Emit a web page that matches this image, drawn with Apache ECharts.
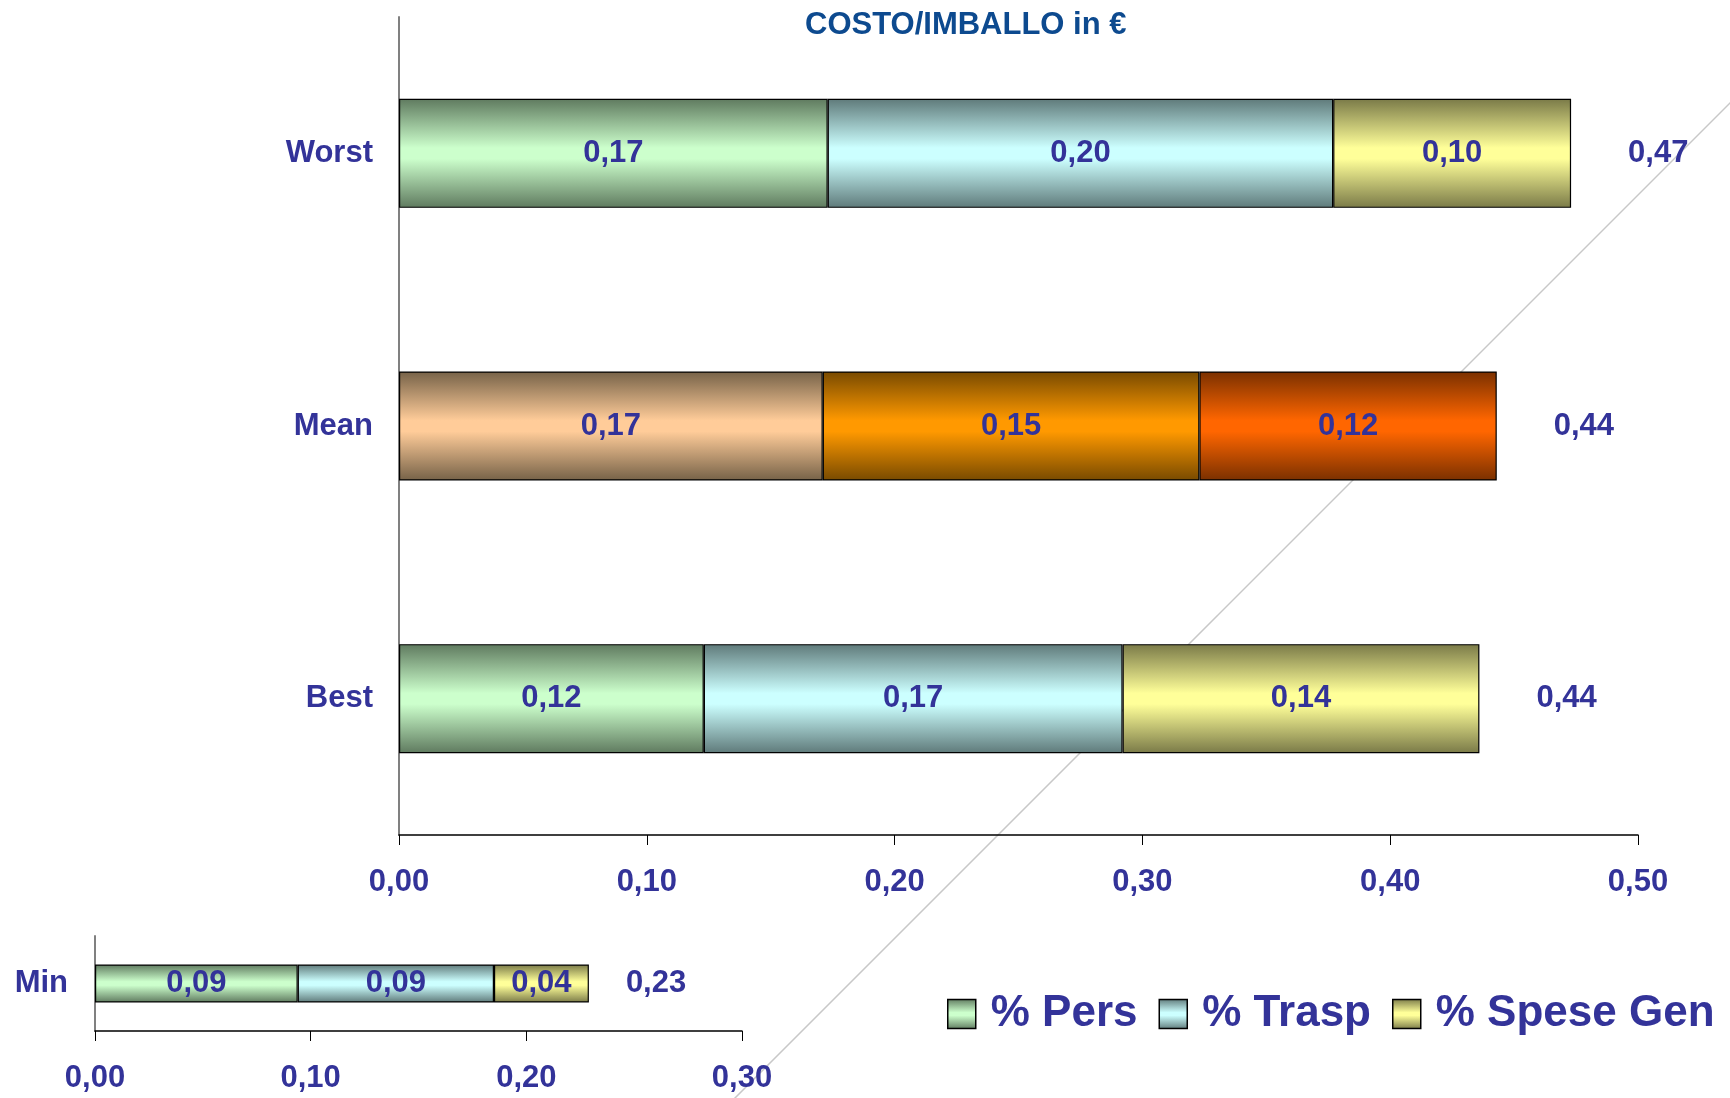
<!DOCTYPE html>
<html>
<head>
<meta charset="utf-8">
<script src="https://cdn.jsdelivr.net/npm/echarts@6/dist/echarts.min.js"></script>
<style>
html,body{margin:0;padding:0;background:#fff;}
#chart{width:1730px;height:1098px;}
</style>
</head>
<body>
<div id="chart"></div>
<script>
// ---- data ----
const chartTitle = 'COSTO/IMBALLO in €';
const seriesNames = ['% Pers', '% Trasp', '% Spese Gen'];
const categories = ['Worst', 'Mean', 'Best'];
const persValues = [0.173, 0.171, 0.123];
const traspValues = [0.204, 0.152, 0.169];
const speseValues = [0.096, 0.120, 0.144];
const minCategories = ['Min'];
const minPersValues = [0.094];
const minTraspValues = [0.091];
const minSpeseValues = [0.044];
const mainAxisRange = [0, 0.5];
const minAxisRange = [0, 0.3];
const axisStep = 0.1;

// ---- styling ----
const FONT = 'Liberation Sans, Arial, sans-serif';
const LABEL_COLOR = '#333399';
function grad(dark, light) {
  return new echarts.graphic.LinearGradient(0, 0, 0, 1, [
    { offset: 0, color: dark },
    { offset: 0.45, color: light },
    { offset: 0.55, color: light },
    { offset: 1, color: dark }
  ]);
}
const seriesGrads = [
  grad('#5f7a5f', '#ccffcc'),
  grad('#5f7a7a', '#ccffff'),
  grad('#7a7a48', '#ffff99')
];
const meanGrads = [
  grad('#766248', '#ffcc99'),
  grad('#784a00', '#ff9900'),
  grad('#7a3000', '#ff6600')
];
const fmt = v => v.toFixed(2).replace('.', ',');
const labelFont = { color: LABEL_COLOR, fontWeight: 'bold', fontSize: 31, fontFamily: FONT };

const mainValues = [persValues, traspValues, speseValues];
const minValues = [minPersValues, minTraspValues, minSpeseValues];

const series = [];
mainValues.forEach((vals, k) => {
  series.push({
    name: seriesNames[k], type: 'bar', stack: 'main', xAxisIndex: 0, yAxisIndex: 0,
    barWidth: '40%',
    itemStyle: { color: seriesGrads[k], borderColor: '#000', borderWidth: 1.2 },
    label: Object.assign({ show: true, position: 'inside', formatter: p => fmt(p.value) }, labelFont),
    data: vals.map((v, i) => categories[i] === 'Mean'
      ? { value: v, itemStyle: { color: meanGrads[k] } }
      : v)
  });
});
minValues.forEach((vals, k) => {
  series.push({
    name: seriesNames[k], type: 'bar', stack: 'min', xAxisIndex: 1, yAxisIndex: 1,
    barWidth: '40%',
    itemStyle: { color: seriesGrads[k], borderColor: '#000', borderWidth: 1.2 },
    label: Object.assign({ show: true, position: 'inside', formatter: p => fmt(p.value) }, labelFont),
    data: vals
  });
});
const mainTotals = categories.map((c, i) => persValues[i] + traspValues[i] + speseValues[i]);
const minTotals = minCategories.map((c, i) => minPersValues[i] + minTraspValues[i] + minSpeseValues[i]);
series.push({
  name: 'totals', type: 'scatter', xAxisIndex: 0, yAxisIndex: 0,
  symbolSize: 2, itemStyle: { color: 'rgba(0,0,0,0)', opacity: 1 }, silent: true,
  label: Object.assign({ show: true, position: 'right', distance: 56, formatter: p => fmt(p.value[0]) }, labelFont),
  data: categories.map((c, i) => [mainTotals[i], c])
});
series.push({
  name: 'minTotals', type: 'scatter', xAxisIndex: 1, yAxisIndex: 1,
  symbolSize: 2, itemStyle: { color: 'rgba(0,0,0,0)', opacity: 1 }, silent: true,
  label: Object.assign({ show: true, position: 'right', distance: 36, formatter: p => fmt(p.value[0]) }, labelFont),
  data: minCategories.map((c, i) => [minTotals[i], c])
});

function valueAxis(gridIndex, range) {
  return {
    type: 'value', gridIndex, min: range[0], max: range[1], interval: axisStep,
    splitLine: { show: false },
    axisLine: { show: true, lineStyle: { color: '#000', width: 1.5 } },
    axisTick: { show: true, length: 10, lineStyle: { color: '#000', width: 1 } },
    axisLabel: Object.assign({ margin: 32, formatter: v => fmt(v) }, labelFont)
  };
}
function catAxis(gridIndex, data, margin) {
  return {
    type: 'category', gridIndex, data, inverse: true,
    axisLine: { show: true, lineStyle: { color: '#808080', width: 2 } },
    axisTick: { show: false },
    axisLabel: Object.assign({ margin }, labelFont)
  };
}

const chart = echarts.init(document.getElementById('chart'), null, { renderer: 'canvas' });
chart.setOption({
  animation: false,
  backgroundColor: '#fff',
  grid: [
    { left: 399, width: 1239, top: 17, height: 818 },
    { left: 95, width: 647, top: 936, height: 95 }
  ],
  xAxis: [valueAxis(0, mainAxisRange), valueAxis(1, minAxisRange)],
  yAxis: [catAxis(0, categories, 26), catAxis(1, minCategories, 27)],
  legend: {
    data: seriesNames, left: 942, top: 987, itemWidth: 28, itemHeight: 29, itemGap: 21,
    icon: 'rect',
    itemStyle: { borderColor: '#000', borderWidth: 1.5 },
    textStyle: { color: LABEL_COLOR, fontWeight: 'bold', fontSize: 44, fontFamily: FONT, padding: [0, 0, 0, 10] }
  },
  graphic: [
    { type: 'line', z: -10, silent: true,
      shape: { x1: 733, y1: 1100, x2: 1735, y2: 98 },
      style: { stroke: '#c8c8c8', lineWidth: 1.5 } },
    { type: 'text', left: 805, top: 10, silent: true,
      style: { text: chartTitle, fill: '#0d4a8f', font: 'bold 31px ' + FONT } }
  ],
  series
});
</script>
</body>
</html>
